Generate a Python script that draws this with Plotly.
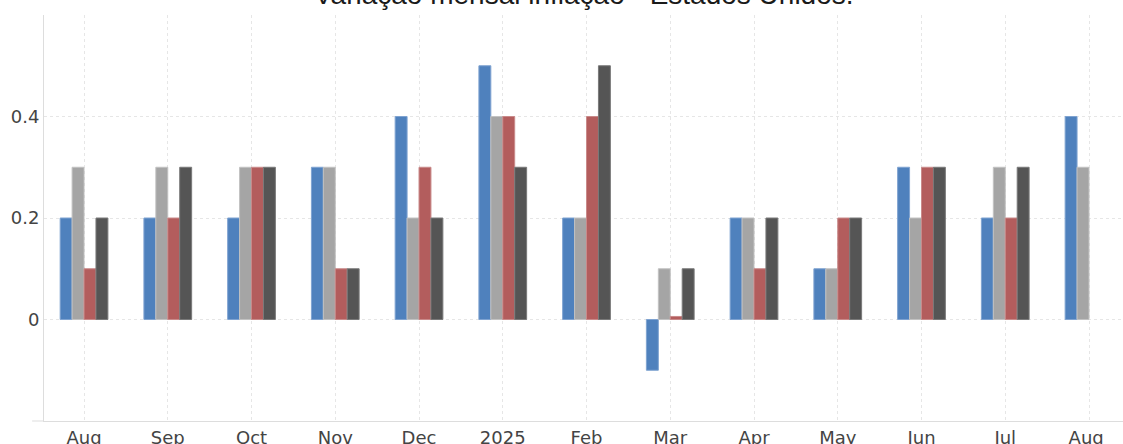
import plotly.graph_objects as go

categories = ["Aug", "Sep", "Oct", "Nov", "Dec", "2025", "Feb", "Mar", "Apr", "May", "Jun", "Jul", "Aug "]
s1 = [0.2, 0.2, 0.2, 0.3, 0.4, 0.5, 0.2, -0.1, 0.2, 0.1, 0.3, 0.2, 0.4]
s2 = [0.3, 0.3, 0.3, 0.3, 0.2, 0.4, 0.2, 0.1, 0.2, 0.1, 0.2, 0.3, 0.3]
s3 = [0.1, 0.2, 0.3, 0.1, 0.3, 0.4, 0.4, 0.006, 0.1, 0.2, 0.3, 0.2, None]
s4 = [0.2, 0.3, 0.3, 0.1, 0.2, 0.3, 0.5, 0.1, 0.2, 0.2, 0.3, 0.3, None]
series_names = ["Série 1", "Série 2", "Série 3", "Série 4"]
colors = ["#4f81bd", "#a5a5a5", "#b35d5d", "#555555"]
edge_colors = ["#7fa3d1", "#c2c2c2", "#c98a8a", "#7a7a7a"]
y_ticks = [-0.2, 0, 0.2, 0.4, 0.6]
y_tick_text = ["", "0", "0.2", "0.4", ""]
title_text = "Variação mensal inflação - Estados Unidos."

fig = go.Figure()
for name, vals, c, ec in zip(series_names, [s1, s2, s3, s4], colors, edge_colors):
    fig.add_trace(go.Bar(x=categories, y=vals, name=name,
                         marker=dict(color=c, line=dict(color=ec, width=1))))

fig.update_layout(
    width=1123, height=444,
    barmode="group", bargap=0.43, bargroupgap=0,
    showlegend=False,
    plot_bgcolor="white", paper_bgcolor="white",
    margin=dict(l=44, r=0, t=15, b=23, autoexpand=False),
    font=dict(family="DejaVu Sans", size=18, color="#444444"),
    annotations=[dict(text=title_text, xref="paper", yref="paper", x=0.5, y=1.0074,
                      xanchor="center", yanchor="bottom", showarrow=False,
                      font=dict(family="Liberation Sans", size=28, color="#1a1a1a"))],
    shapes=[dict(type="line", xref="paper", yref="paper", x0=-0.011, x1=0, y0=0, y1=0,
                 line=dict(color="#dddddd", width=1))],
)
fig.update_xaxes(
    type="category", range=[-0.478, 12.406], automargin=False,
    showgrid=True, gridcolor="#e6e6e6", griddash="dot", gridwidth=1,
    showline=True, linecolor="#dddddd", linewidth=1,
    ticks="", tickfont=dict(family="DejaVu Sans", size=18, color="#444444"),
)
fig.update_yaxes(
    range=[-0.2, 0.6], tickvals=y_ticks, ticktext=y_tick_text, automargin=False,
    showgrid=True, gridcolor="#e6e6e6", griddash="dot", gridwidth=1,
    zeroline=False, showline=True, linecolor="#dddddd", linewidth=1,
    ticks="", tickfont=dict(family="DejaVu Sans", size=18, color="#444444"),
)
fig.write_html("out.html", config={"displayModeBar": False},
               post_script="document.body.style.margin='0';document.body.style.overflow='hidden';")
